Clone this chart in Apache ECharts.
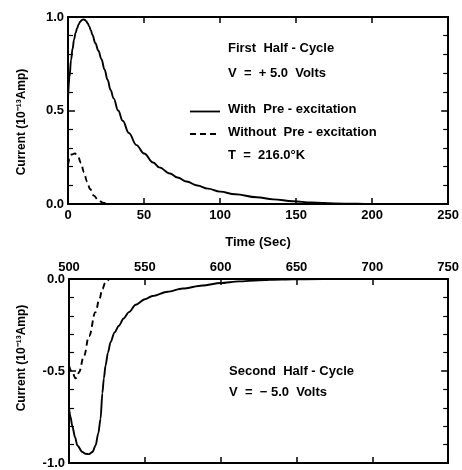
<!DOCTYPE html>
<html><head><meta charset="utf-8">
<script src="https://cdn.jsdelivr.net/npm/echarts@6/dist/echarts.min.js"></script>
<style>html,body{margin:0;padding:0;background:#fff}#c{width:462px;height:470px}</style>
</head><body><div id="c"></div>
<script>
// ---- data ----
const topWithT = [0,1,2,3,4,5,6,7,8,9,10,11,12,13,14,15,16,18,20,22,24,26,28,30,33,36,40,45,50,56,60,67,72,78,85,92,100,110,124,135,148,160,175,190,200,250];
const topWithV = [0.56,0.68,0.77,0.83,0.88,0.915,0.94,0.96,0.975,0.983,0.987,0.985,0.978,0.965,0.95,0.93,0.905,0.86,0.82,0.775,0.72,0.665,0.61,0.565,0.5,0.445,0.38,0.315,0.27,0.222,0.196,0.163,0.142,0.12,0.099,0.082,0.066,0.052,0.036,0.025,0.015,0.008,0.003,0.001,0,0];
const topWithoutT = [0,1,2.5,4.5,6.5,8.5,10.5,12.5,14.5,17,20,23,26,28];
const topWithoutV = [0.21,0.24,0.265,0.27,0.255,0.22,0.17,0.12,0.08,0.045,0.02,0.007,0.001,0];
const botWithT = [500,501,502.2,504,505.5,508.8,511,513.2,515.5,517.5,519.3,520.8,522,523,524.1,525.7,527.4,530,532.9,536,539.5,544,550,555,565,575,588,600,612,625,640,655,680,750];
const botWithV = [-0.70,-0.75,-0.80,-0.86,-0.905,-0.94,-0.95,-0.952,-0.94,-0.905,-0.84,-0.76,-0.62,-0.54,-0.47,-0.40,-0.344,-0.29,-0.254,-0.215,-0.18,-0.14,-0.11,-0.092,-0.069,-0.052,-0.035,-0.022,-0.013,-0.007,-0.003,-0.001,0,0];
const botWithoutT = [500,502.2,504.4,505.5,506.6,509.9,513.2,517.5,520,522,524,526.3];
const botWithoutV = [-0.47,-0.51,-0.54,-0.53,-0.505,-0.417,-0.31,-0.18,-0.11,-0.054,-0.02,0];
const nameWith = 'With  Pre - excitation';
const nameWithout = 'Without  Pre - excitation';
const xLabel = 'Time (Sec)';
const yLabelTop = 'Current (10⁻¹³Amp)';
const yLabelBot = 'Current (10⁻¹³Amp)';

const zip = (a,b) => a.map((x,i)=>[x,b[i]]);
const FONT = '"Liberation Sans", Arial, sans-serif';
const axisLine = {show:true, onZero:false, lineStyle:{color:'#000', width:2}};
const lbl = {color:'#000', fontFamily:FONT, fontWeight:'bold', fontSize:13};
function xAx(grid, min, max, pos, showLabel){
  return {type:'value', gridIndex:grid, min:min, max:max, interval:50, position:pos,
    axisLine:axisLine, axisTick:{show:true, inside:true, length:6, lineStyle:{color:'#000', width:1.5}},
    axisLabel: showLabel ? Object.assign({show:true, margin:5}, lbl) : {show:false},
    splitLine:{show:false}};
}
function yAx(grid, min, max, pos, showLabel){
  return {type:'value', gridIndex:grid, min:min, max:max, interval:0.5, position:pos,
    axisLine:axisLine, axisTick:{show:true, inside:true, length:7, lineStyle:{color:'#000', width:1.5}},
    minorTick:{show:true, splitNumber:5, length:5, lineStyle:{color:'#000', width:1.2}},
    axisLabel: showLabel ? Object.assign({show:true, margin:4, formatter:v=>v.toFixed(1)}, lbl) : {show:false},
    splitLine:{show:false}};
}
const solid = {color:'#000', width:1.9, type:'solid'};
const dashed = {color:'#000', width:1.9, type:[6,4]};
const txt = (t)=>({text:t, fill:'#000', font:'bold 13px '+FONT});
const chart = echarts.init(document.getElementById('c'));
chart.setOption({
  animation:false,
  backgroundColor:'#fff',
  grid:[{left:68, top:17, width:381, height:187},{left:69, top:279, width:380, height:184}],
  xAxis:[xAx(0,0,250,'bottom',true), xAx(0,0,250,'top',false), xAx(1,500,750,'top',true), xAx(1,500,750,'bottom',false)],
  yAxis:[yAx(0,0,1,'left',true), yAx(0,0,1,'right',false), yAx(1,-1,0,'left',true), yAx(1,-1,0,'right',false)],
  series:[
    {name:nameWith, type:'line', xAxisIndex:0, yAxisIndex:0, data:zip(topWithT,topWithV), smooth:0.4, smoothMonotone:'x', symbol:'none', lineStyle:solid},
    {name:nameWithout, type:'line', xAxisIndex:0, yAxisIndex:0, data:zip(topWithoutT,topWithoutV), smooth:0.4, smoothMonotone:'x', symbol:'none', lineStyle:dashed},
    {name:nameWith, type:'line', xAxisIndex:2, yAxisIndex:2, data:zip(botWithT,botWithV), smooth:0.3, smoothMonotone:'x', symbol:'none', lineStyle:solid},
    {name:nameWithout, type:'line', xAxisIndex:2, yAxisIndex:2, data:zip(botWithoutT,botWithoutV), smooth:0.4, smoothMonotone:'x', symbol:'none', lineStyle:dashed}
  ],
  graphic:[
    {type:'text', left:228, top:42, style:txt('First  Half - Cycle')},
    {type:'text', left:228, top:67, style:txt('V  =  + 5.0  Volts')},
    {type:'line', shape:{x1:190, y1:111.5, x2:220, y2:111.5}, style:{stroke:'#000', lineWidth:1.8}},
    {type:'text', left:228, top:103, style:txt(nameWith)},
    {type:'line', shape:{x1:190, y1:134, x2:220, y2:134}, style:{stroke:'#000', lineWidth:1.8, lineDash:[6,4]}},
    {type:'text', left:228, top:126, style:txt(nameWithout)},
    {type:'text', left:228, top:149, style:txt('T  =  216.0°K')},
    {type:'text', left:229, top:365, style:txt('Second  Half - Cycle')},
    {type:'text', left:229, top:386, style:txt('V  =  − 5.0  Volts')},
    {type:'text', x:258, y:242, style:{text:xLabel, fill:'#000', font:'bold 13px '+FONT, align:'center', verticalAlign:'middle'}},
    {type:'text', x:22, y:122, rotation:Math.PI/2, style:{text:yLabelTop, fill:'#000', font:'bold 12px '+FONT, align:'center', verticalAlign:'middle'}},
    {type:'text', x:22, y:358, rotation:Math.PI/2, style:{text:yLabelBot, fill:'#000', font:'bold 12px '+FONT, align:'center', verticalAlign:'middle'}}
  ]
});
</script></body></html>
